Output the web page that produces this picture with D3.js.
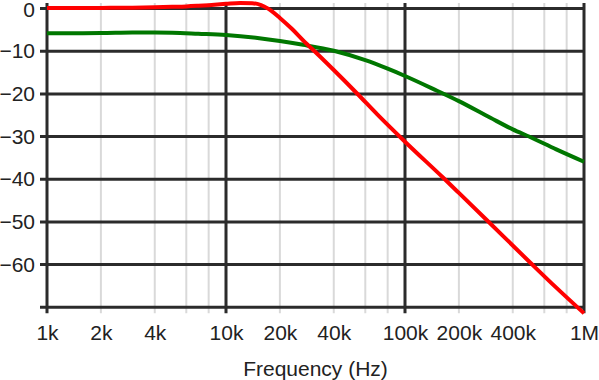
<!DOCTYPE html>
<html>
<head>
<meta charset="utf-8">
<script src="https://cdn.jsdelivr.net/npm/d3@7"></script>
<style>
  body { margin: 0; background: #fff; }
  svg { display: block; font-family: "Liberation Sans", Arial, sans-serif; }
</style>
</head>
<body>
<div class="chart"></div>
<script>
// values (frequency in Hz, gain in dB)
const redFreq = [1000, 1500, 2000, 3000, 4000, 5000, 6000, 7000, 8000, 10000, 12000, 14000, 15700, 17000, 18000, 20000, 23400, 27500, 30000, 40000, 54000, 70000, 100000, 163000, 200000, 287000, 500000, 700000, 1000000];
const redGain = [0.1, 0.12, 0.15, 0.2, 0.3, 0.4, 0.5, 0.65, 0.8, 1.1, 1.3, 1.25, 0.8, 0.1, -0.6, -2.2, -4.8, -7.8, -9.3, -14.4, -19.9, -24.8, -31.2, -39.6, -43.2, -49.6, -59.5, -65.4, -71.4];

const greenFreq = [1000, 2000, 3000, 4000, 5000, 7000, 10000, 15000, 20000, 27000, 40000, 60000, 80000, 100000, 150000, 200000, 300000, 400000, 500000, 700000, 1000000];
const greenGain = [-5.8, -5.75, -5.6, -5.6, -5.65, -5.9, -6.2, -6.9, -7.6, -8.5, -9.9, -12.1, -14.1, -15.8, -19.2, -21.7, -25.6, -28.3, -30.1, -33, -35.9];

const xMajor = [1e3, 1e4, 1e5, 1e6];
const xMinor = [2e3, 4e3, 6e3, 8e3, 2e4, 4e4, 6e4, 8e4, 2e5, 4e5, 6e5, 8e5];
const xTickValues = [1e3, 2e3, 4e3, 1e4, 2e4, 4e4, 1e5, 2e5, 4e5, 1e6];
const xTickLabels = ['1k', '2k', '4k', '10k', '20k', '40k', '100k', '200k', '400k', '1M'];
const yGrid = [0, -10, -20, -30, -40, -50, -60, -70];
const yTickValues = [0, -10, -20, -30, -40, -50, -60];

const W = 599, H = 380;
const plotLeft = 47, plotRight = 584, plotTop = 3, plotBottom = 307.3;
const dark = '#2b2b2b';

const svg = d3.select('.chart').append('svg')
  .attr('width', W)
  .attr('height', H);

const x = d3.scaleLog().domain([1e3, 1e6]).range([plotLeft, plotRight]);
const y = d3.scaleLinear().domain([-70, 1.3]).range([plotBottom, plotTop]);

// light minor verticals
svg.append('g').selectAll('line')
  .data(xMinor)
  .join('line')
  .attr('x1', d => x(d)).attr('x2', d => x(d))
  .attr('y1', plotTop).attr('y2', plotBottom + 6)
  .attr('stroke', '#d9d9d9')
  .attr('stroke-width', 2);

// dark horizontal grid with left ticks
svg.append('g').selectAll('line')
  .data(yGrid)
  .join('line')
  .attr('x1', plotLeft - 7).attr('x2', plotRight)
  .attr('y1', d => y(d)).attr('y2', d => y(d))
  .attr('stroke', dark)
  .attr('stroke-width', 3);

// dark verticals at decades
svg.append('g').selectAll('line')
  .data(xMajor)
  .join('line')
  .attr('x1', d => x(d)).attr('x2', d => x(d))
  .attr('y1', plotTop).attr('y2', plotBottom + 6)
  .attr('stroke', dark)
  .attr('stroke-width', 3);

const yAxis = svg.append('g')
  .attr('transform', `translate(${plotLeft},0)`)
  .call(d3.axisLeft(y).tickValues(yTickValues).tickSize(0).tickPadding(12));

const xAxis = svg.append('g')
  .attr('transform', `translate(0,${plotBottom})`)
  .call(d3.axisBottom(x).tickValues(xTickValues).tickSize(0).tickPadding(18)
    .tickFormat((d, i) => xTickLabels[i]));

[yAxis, xAxis].forEach(g => {
  g.select('.domain').remove();
  g.selectAll('text')
    .attr('fill', '#222')
    .style('font-size', '21px')
    .style('font-family', '"Liberation Sans", Arial, sans-serif');
});

// keep the top "0" label inside the frame
yAxis.selectAll('.tick').filter(d => d === 0).select('text').attr('y', 1);

svg.append('text')
  .attr('x', (plotLeft + plotRight) / 2)
  .attr('y', 376)
  .attr('text-anchor', 'middle')
  .attr('fill', '#222')
  .style('font-size', '21px')
  .text('Frequency (Hz)');

const line = d3.line()
  .x(d => x(d[0]))
  .y(d => y(d[1]))
  .curve(d3.curveMonotoneX);

svg.append('path')
  .datum(d3.zip(greenFreq, greenGain))
  .attr('fill', 'none')
  .attr('stroke', '#007700')
  .attr('stroke-width', 4)
  .attr('d', line);

svg.append('path')
  .datum(d3.zip(redFreq, redGain))
  .attr('fill', 'none')
  .attr('stroke', '#ff0000')
  .attr('stroke-width', 4)
  .attr('d', line);
</script>
</body>
</html>
